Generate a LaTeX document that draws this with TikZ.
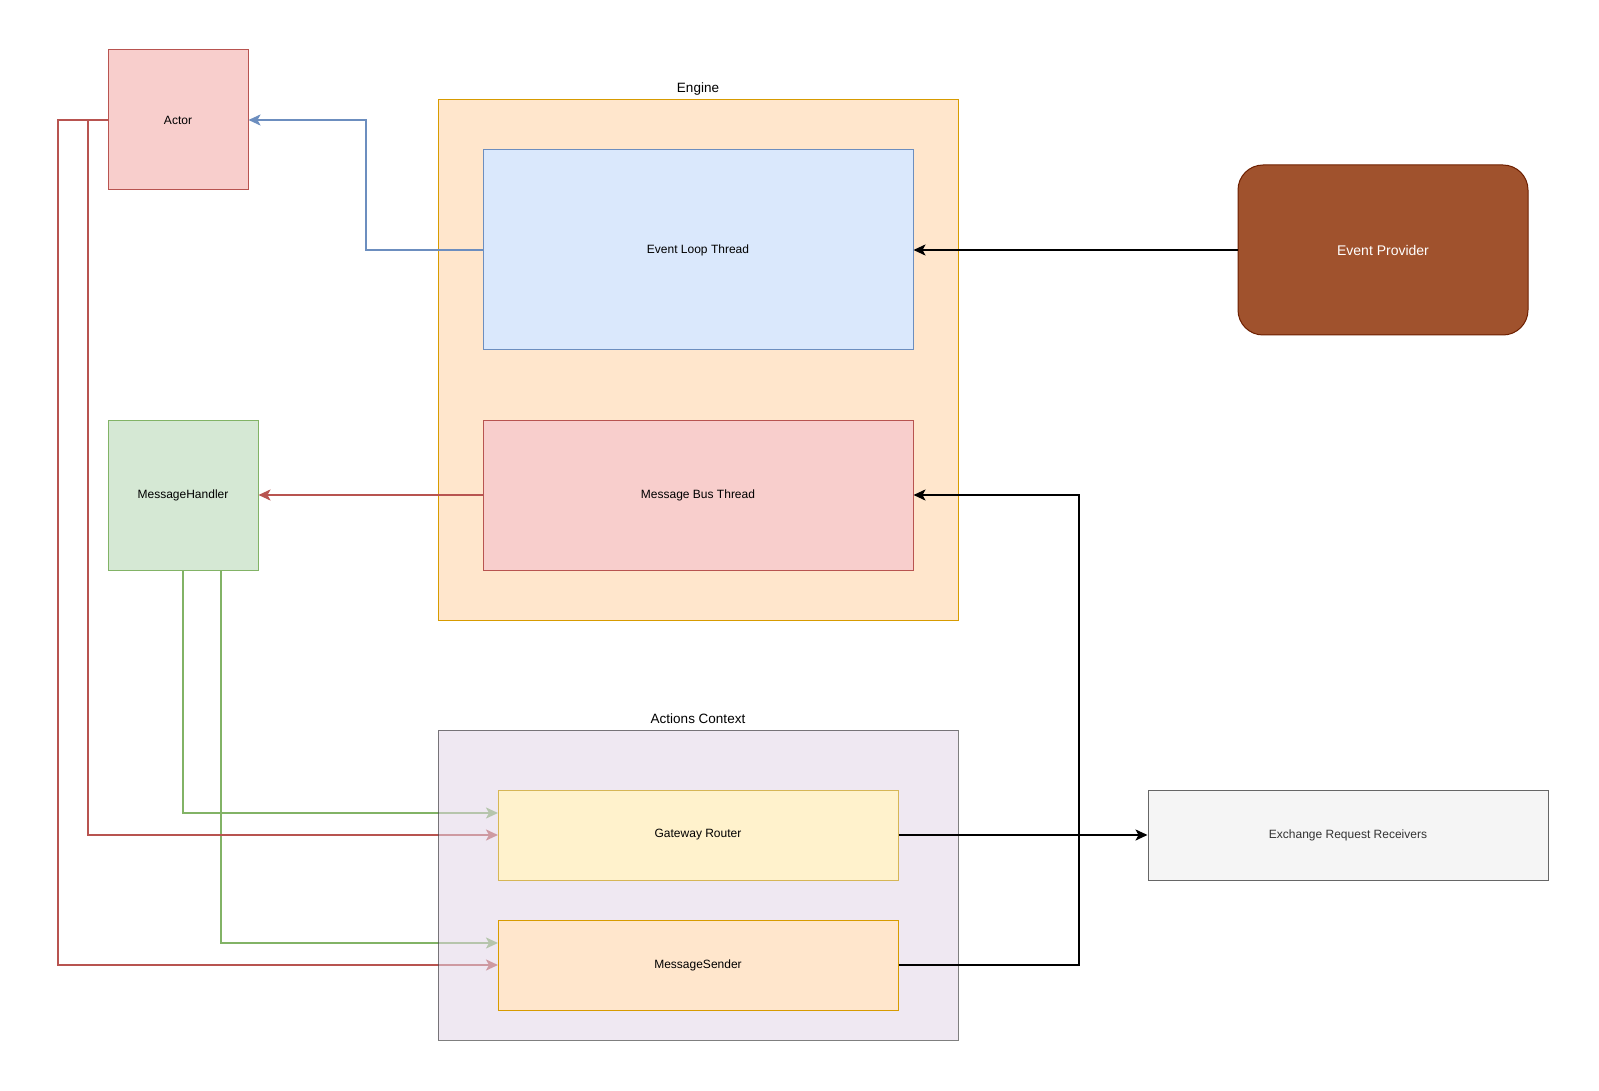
\documentclass[tikz,border=0pt]{standalone}
\usepackage{fontspec}
\setmainfont{Liberation Sans}
\usetikzlibrary{arrows.meta}
\definecolor{redF}{HTML}{F8CECC}\definecolor{redS}{HTML}{B85450}
\definecolor{orF}{HTML}{FFE6CC}\definecolor{orS}{HTML}{D79B00}
\definecolor{blF}{HTML}{DAE8FC}\definecolor{blS}{HTML}{6C8EBF}
\definecolor{grF}{HTML}{D5E8D4}\definecolor{grS}{HTML}{82B366}
\definecolor{puF}{HTML}{E1D5E7}
\definecolor{yeF}{HTML}{FFF2CC}\definecolor{yeS}{HTML}{D6B656}
\definecolor{brF}{HTML}{A0522D}\definecolor{brS}{HTML}{6D1F00}
\definecolor{gyF}{HTML}{F5F5F5}\definecolor{gyS}{HTML}{666666}\definecolor{gyT}{HTML}{333333}
\tikzset{
  box/.style={rectangle, draw, line width=1pt, inner sep=0pt, font=\fontsize{12}{14}\selectfont},
  lbl/.style={inner sep=0pt, font=\fontsize{13.5}{16}\selectfont},
  edge/.style={line width=2pt, -{Stealth[length=12pt,width=11pt,inset=3pt]}},
}
\begin{document}
\begin{tikzpicture}[x=1pt,y=-1pt]
\useasboundingbox (0,0) rectangle (1599,1091);
% Engine container
\node[box, draw=orS, fill=orF, minimum width=520pt, minimum height=520pt] (engine) at (698,360) {};
\node[lbl] (enginelbl) at (698,89) {Engine};
\node[box, draw=blS, fill=blF, minimum width=430pt, minimum height=200pt] (el) at (698,250) {Event Loop Thread};
\node[box, draw=redS, fill=redF, minimum width=430pt, minimum height=150pt] (mbt) at (698,495) {Message Bus Thread};
% Left nodes
\node[box, draw=redS, fill=redF, minimum width=140pt, minimum height=140pt] (actor) at (178,120) {Actor};
\node[box, draw=grS, fill=grF, minimum width=150pt, minimum height=150pt] (mh) at (183,495) {MessageHandler};
% Right nodes
\node[box, draw=brS, fill=brF, text=white, rounded corners=25pt, minimum width=290pt, minimum height=170pt, font=\fontsize{14}{16}\selectfont] (ep) at (1383,250) {Event Provider};
\node[box, draw=gyS, fill=gyF, text=gyT, minimum width=400pt, minimum height=90pt] (ex) at (1348,835) {Exchange Request Receivers};
% Edges into Actor / MessageHandler
\draw[edge, blS] (el.west) -- ++(-117,0) |- (actor.east);
\draw[edge, redS] (mbt.west) -- (mh.east);
\draw[edge] (ep.west) -- (el.east);
% Edges to Actions Context (drawn under its translucent fill)
\draw[edge, grS] (mh.south) |- ([yshift=22pt]498,835) coordinate (g1);
\draw[edge, grS] ([xshift=37.5pt]mh.south) |- ([yshift=22pt]498,965) coordinate (g2);
\draw[edge, redS] (actor.west) -- ++(-20,0) |- (498,835);
\draw[edge, redS] (actor.west) -- ++(-50,0) |- (498,965);
% Actions Context container
\node[box, draw=black, draw opacity=0.5, fill=puF, fill opacity=0.55, minimum width=520pt, minimum height=310pt] (ac) at (698,885) {};
\node[lbl] (aclbl) at (698,719) {Actions Context};
\node[box, draw=yeS, fill=yeF, minimum width=400pt, minimum height=90pt] (gr) at (698,835) {Gateway Router};
\node[box, draw=orS, fill=orF, minimum width=400pt, minimum height=90pt] (ms) at (698,965) {MessageSender};
% Black edges
\draw[edge] (gr.east) -- (ex.west);
\draw[edge] (ms.east) -- ++(180,0) |- (mbt.east);
\end{tikzpicture}
\end{document}
